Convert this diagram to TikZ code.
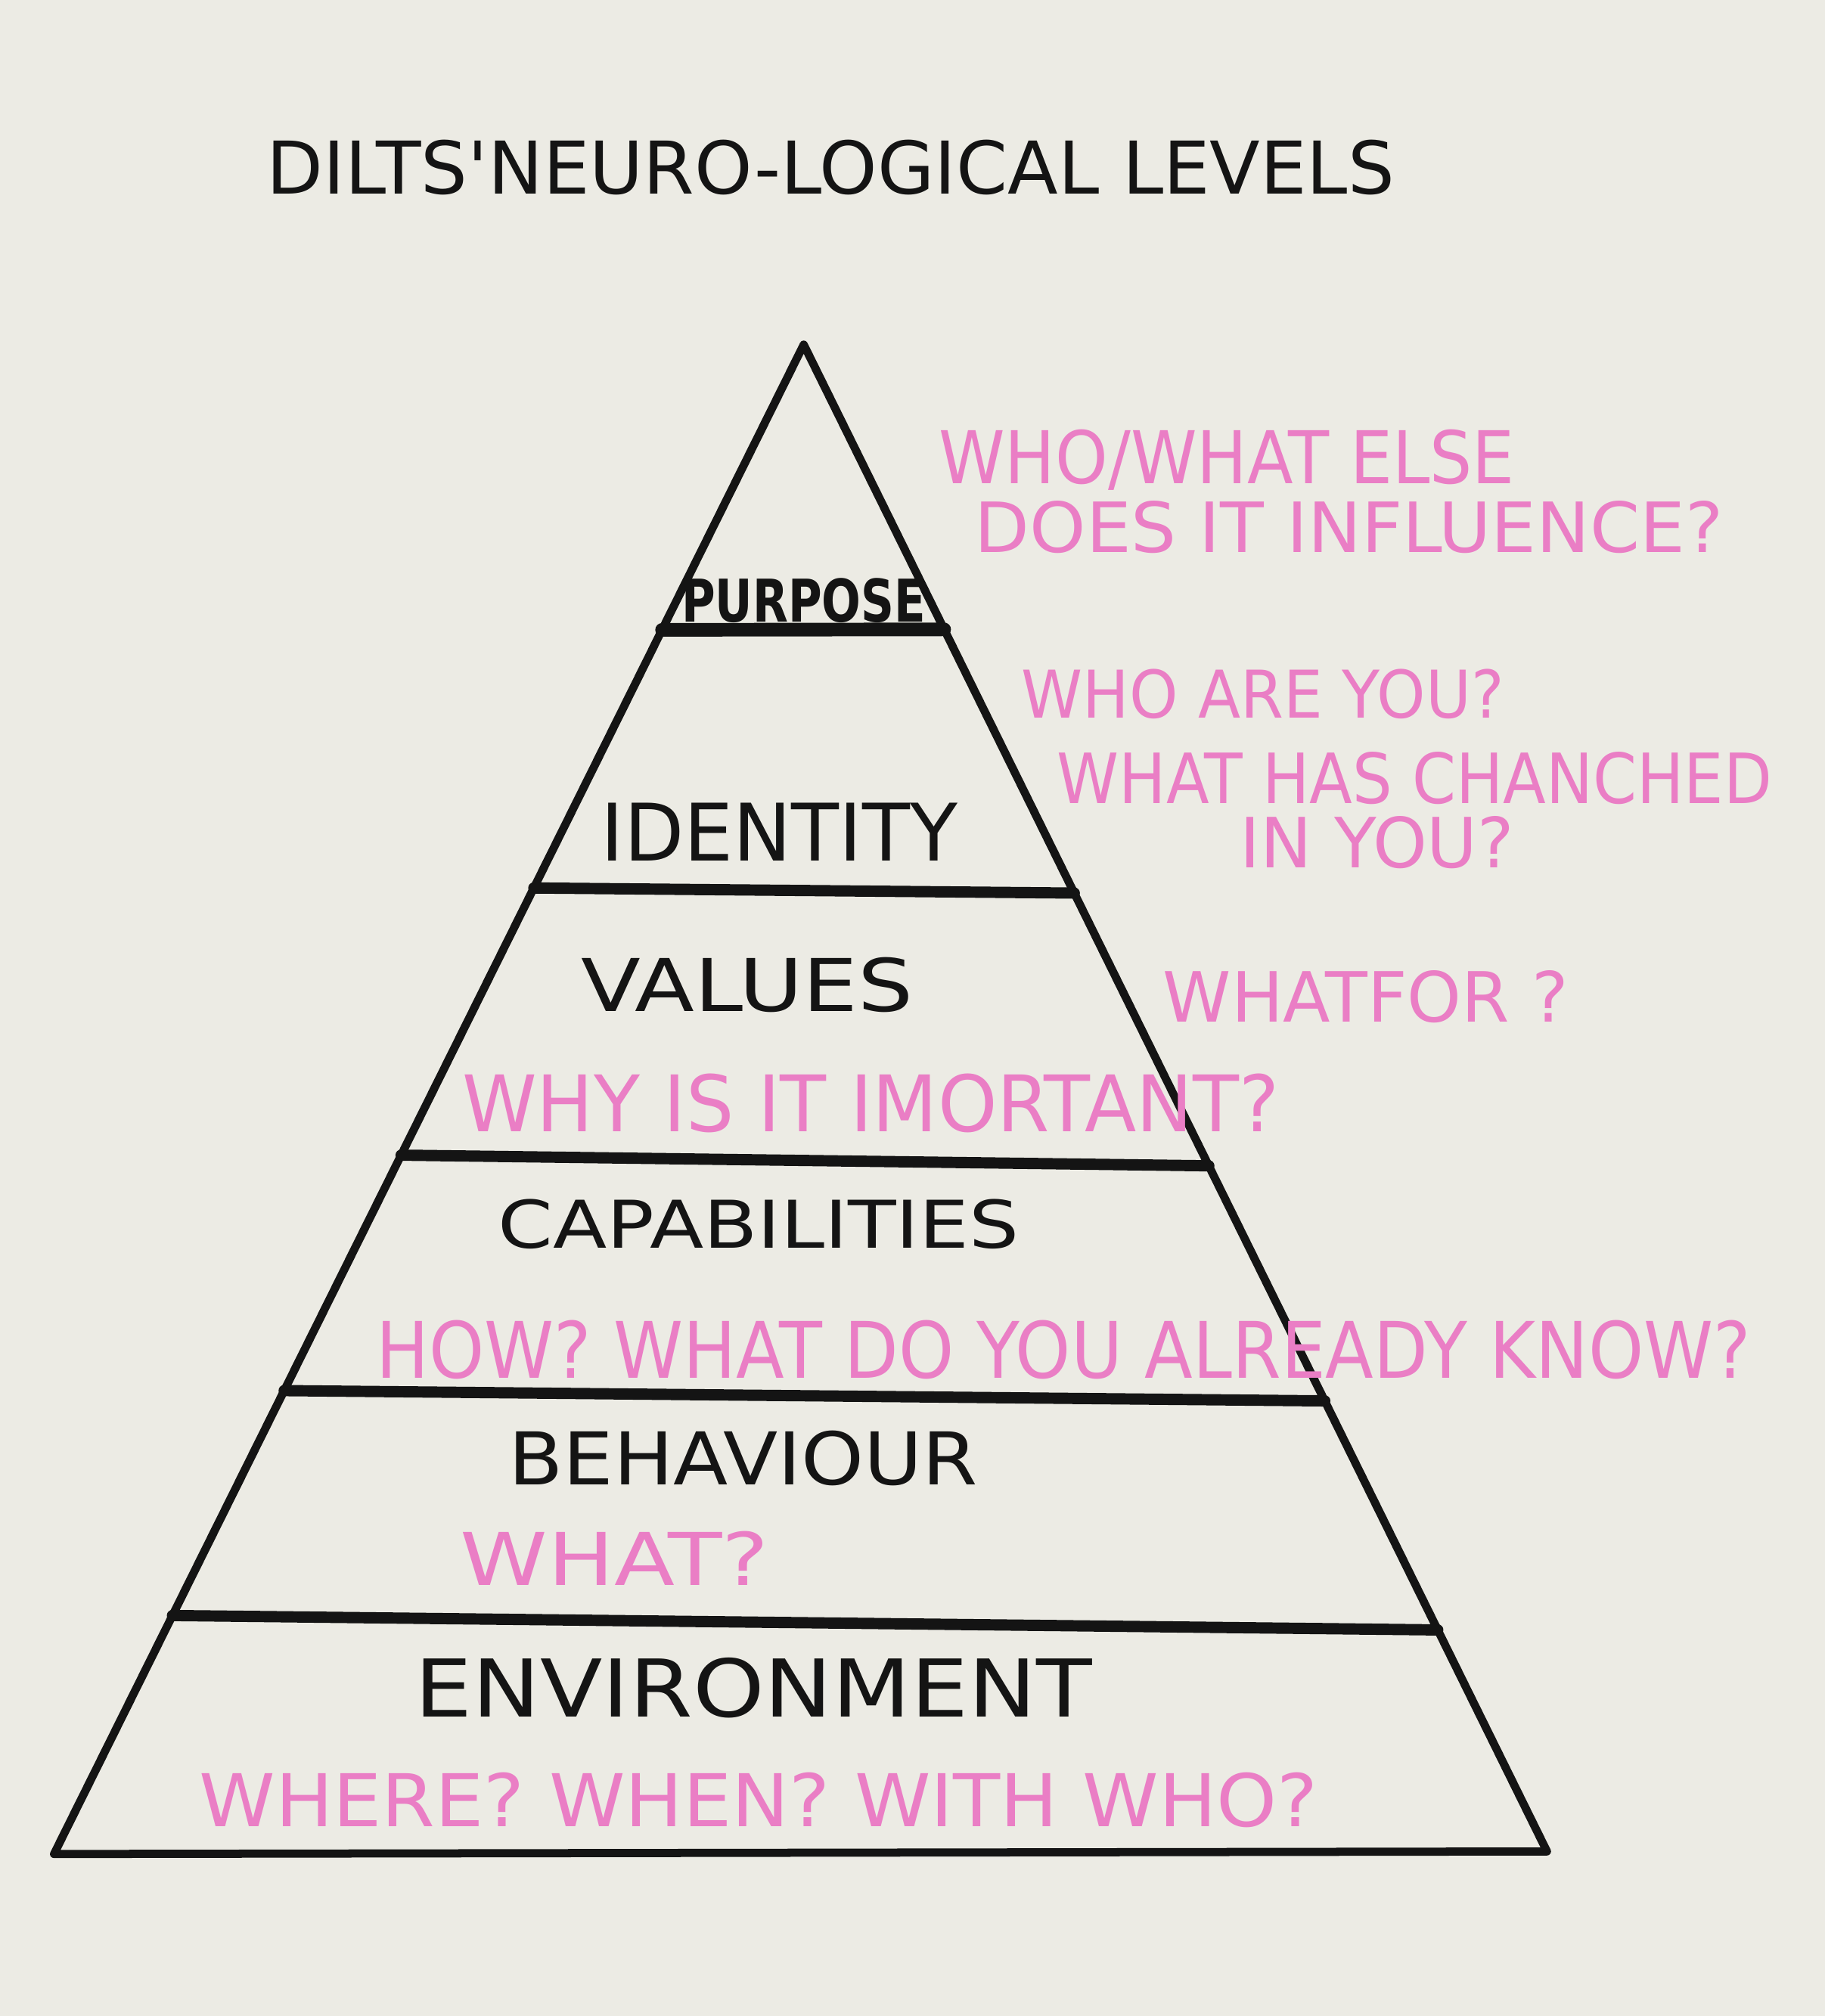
\documentclass[tikz,border=0pt]{standalone}
\usepackage{graphicx}
\usepackage{fontspec}
\setmainfont{DejaVu Sans}
\usetikzlibrary{positioning,calc}
\definecolor{paper}{HTML}{ECEBE4}
\definecolor{marker}{HTML}{EA7EC5}
\definecolor{ink}{HTML}{141414}
% text stretched to a given width and cap height (in cm)
\newcommand{\fitbox}[3]{\resizebox{#1cm}{#2cm}{#3}}

\begin{document}
\begin{tikzpicture}[
	level/.style={inner sep=0pt, text=ink},
	ask/.style={inner sep=0pt, text=marker},
	edge/.style={draw=ink, line width=1.8pt, line join=round, line cap=round},
	bar/.style={draw=ink, line width=2.5pt, line cap=round},
	]
	%Background
	\fill[paper] (0,0) rectangle (14.19,-15.68);
	\useasboundingbox (0,0) rectangle (14.19,-15.68);

	%Title
	\node[level] (title) at (6.46,-1.30) {\fitbox{8.77}{0.42}{DILTS\textquotesingle NEURO-LOGICAL LEVELS}};

	%Pyramid
	\coordinate (apex) at (6.25,-2.68);
	\coordinate (bl)   at (0.42,-14.42);
	\coordinate (br)   at (12.03,-14.40);
	\draw[edge] (apex) -- (bl) -- (br) -- cycle;

	\coordinate (p1l) at ($(apex)!0.189!(bl)$);
	\coordinate (p1r) at ($(apex)!0.189!(br)$);
	\coordinate (p2l) at ($(apex)!0.360!(bl)$);
	\coordinate (p2r) at ($(apex)!0.364!(br)$);
	\coordinate (p3l) at ($(apex)!0.537!(bl)$);
	\coordinate (p3r) at ($(apex)!0.545!(br)$);
	\coordinate (p4l) at ($(apex)!0.693!(bl)$);
	\coordinate (p4r) at ($(apex)!0.701!(br)$);
	\coordinate (p5l) at ($(apex)!0.842!(bl)$);
	\coordinate (p5r) at ($(apex)!0.853!(br)$);

	\draw[bar, line width=3pt] (p1l) -- (p1r);
	\draw[bar] (p2l) -- (p2r);
	\draw[bar] (p3l) -- (p3r);
	\draw[bar] (p4l) -- (p4r);
	\draw[bar] (p5l) -- (p5r);

	%Levels
	\node[level, font=\bfseries] (purpose) at (6.25,-4.67) {\fitbox{1.90}{0.34}{PURPOSE}};
	\node[level] (identity)     at (6.06,-6.47)  {\fitbox{2.77}{0.45}{IDENTITY}};
	\node[level] (values)       at (5.81,-7.66)  {\fitbox{2.58}{0.42}{VALUES}};
	\node[level] (capabilities) at (5.90,-9.52)  {\fitbox{4.05}{0.38}{CAPABILITIES}};
	\node[level] (behaviour)    at (5.78,-11.34) {\fitbox{3.65}{0.42}{BEHAVIOUR}};
	\node[level] (environment)  at (5.86,-13.13) {\fitbox{5.27}{0.46}{ENVIRONMENT}};

	%Questions
	\node[ask] (purposeA)  at (9.54,-3.58)  {\fitbox{4.48}{0.42}{WHO/WHAT ELSE}};
	\node[ask] (purposeB)  at (10.49,-4.10) {\fitbox{5.82}{0.40}{DOES IT INFLUENCE?}};
	\node[ask] (identityA) at (9.82,-5.40)  {\fitbox{3.75}{0.38}{WHO ARE YOU?}};
	\node[ask] (identityB) at (11.00,-6.05) {\fitbox{5.56}{0.40}{WHAT HAS CHANCHED}};
	\node[ask] (identityC) at (10.71,-6.55) {\fitbox{2.13}{0.40}{IN YOU?}};
	\node[ask] (valuesA)   at (10.62,-7.75) {\fitbox{3.15}{0.40}{WHATFOR ?}};
	\node[ask] (valuesB)   at (6.77,-8.58)  {\fitbox{6.35}{0.45}{WHY IS IT IMORTANT?}};
	\node[ask] (capsA)     at (8.27,-10.50) {\fitbox{10.69}{0.45}{HOW? WHAT DO YOU ALREADY KNOW?}};
	\node[ask] (behavA)    at (4.78,-12.12) {\fitbox{2.40}{0.42}{WHAT?}};
	\node[ask] (envA)      at (5.90,-14.00) {\fitbox{8.70}{0.42}{WHERE? WHEN? WITH WHO?}};
\end{tikzpicture}
\end{document}
